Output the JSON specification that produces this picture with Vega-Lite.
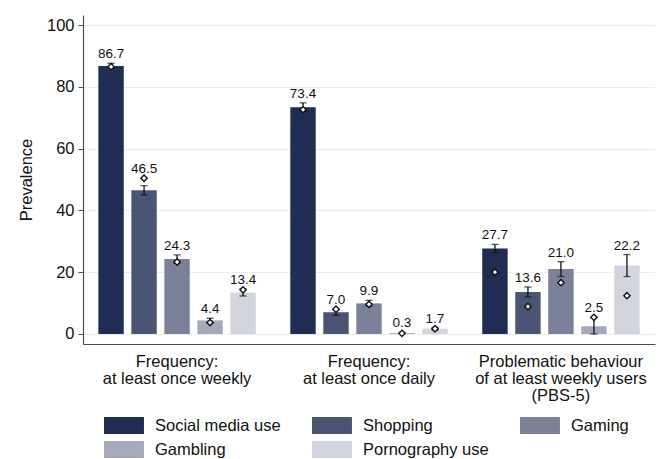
{
  "$schema": "https://vega.github.io/schema/vega-lite/v6.json",
  "width": 572,
  "height": 329,
  "autosize": {"type": "none"},
  "padding": {"left": 83, "top": 15, "right": 9, "bottom": 115},
  "background": "white",
  "config": {
    "font": "Liberation Sans",
    "view": {"stroke": null},
    "axis": {"labelColor": "#111111", "titleColor": "#111111"}
  },
  "data": {
    "values": [
      {"group": "Frequency: at least once weekly", "cat": "Social media use", "val": 86.7, "lo": 86.0, "hi": 87.6, "m": 86.5},
      {"group": "Frequency: at least once weekly", "cat": "Shopping", "val": 46.5, "lo": 45.0, "hi": 48.0, "m": 50.4},
      {"group": "Frequency: at least once weekly", "cat": "Gaming", "val": 24.3, "lo": 22.9, "hi": 25.6, "m": 23.3},
      {"group": "Frequency: at least once weekly", "cat": "Gambling", "val": 4.4, "lo": 3.5, "hi": 5.1, "m": 3.7},
      {"group": "Frequency: at least once weekly", "cat": "Pornography use", "val": 13.4, "lo": 12.3, "hi": 14.6, "m": 14.3},
      {"group": "Frequency: at least once daily", "cat": "Social media use", "val": 73.4, "lo": 72.0, "hi": 74.8, "m": 72.6},
      {"group": "Frequency: at least once daily", "cat": "Shopping", "val": 7.0, "lo": 6.0, "hi": 7.9, "m": 8.0},
      {"group": "Frequency: at least once daily", "cat": "Gaming", "val": 9.9, "lo": 9.0, "hi": 10.9, "m": 9.6},
      {"group": "Frequency: at least once daily", "cat": "Gambling", "val": 0.3, "lo": 0.1, "hi": 0.5, "m": 0.2},
      {"group": "Frequency: at least once daily", "cat": "Pornography use", "val": 1.7, "lo": 1.3, "hi": 2.1, "m": 1.7},
      {"group": "Problematic behaviour of at least weekly users (PBS-5)", "cat": "Social media use", "val": 27.7, "lo": 26.4, "hi": 29.0, "m": 20.0},
      {"group": "Problematic behaviour of at least weekly users (PBS-5)", "cat": "Shopping", "val": 13.6, "lo": 12.0, "hi": 15.2, "m": 8.9},
      {"group": "Problematic behaviour of at least weekly users (PBS-5)", "cat": "Gaming", "val": 21.0, "lo": 18.6, "hi": 23.4, "m": 16.6},
      {"group": "Problematic behaviour of at least weekly users (PBS-5)", "cat": "Gambling", "val": 2.5, "lo": 0.0, "hi": 5.2, "m": 5.4},
      {"group": "Problematic behaviour of at least weekly users (PBS-5)", "cat": "Pornography use", "val": 22.2, "lo": 18.6, "hi": 25.7, "m": 12.4}
    ]
  },
  "encoding": {
    "x": {
      "field": "group",
      "type": "nominal",
      "sort": ["Frequency: at least once weekly", "Frequency: at least once daily", "Problematic behaviour of at least weekly users (PBS-5)"],
      "scale": {"paddingInner": 0.18, "paddingOuter": 0.08},
      "axis": {
        "title": null,
        "labelAngle": 0,
        "ticks": false,
        "labelFontSize": 16.5,
        "labelLineHeight": 17,
        "labelBaseline": "top",
        "labelPadding": 9,
        "labelLimit": 300,
        "domainColor": "#4d4d4d",
        "domainWidth": 1.2,
        "labelExpr": "datum.value == 'Frequency: at least once weekly' ? ['Frequency:', 'at least once weekly'] : datum.value == 'Frequency: at least once daily' ? ['Frequency:', 'at least once daily'] : ['Problematic behaviour', 'of at least weekly users', '(PBS-5)']"
      }
    },
    "xOffset": {
      "field": "cat",
      "type": "nominal",
      "sort": ["Social media use", "Shopping", "Gaming", "Gambling", "Pornography use"],
      "scale": {"paddingInner": 0.23, "paddingOuter": 0}
    }
  },
  "layer": [
    {
      "mark": {"type": "bar"},
      "encoding": {
        "y": {
          "field": "val",
          "type": "quantitative",
          "scale": {"domain": [-3.24, 103.24], "nice": false, "zero": false},
          "axis": {
            "title": "Prevalence",
            "titleFontSize": 16.5,
            "titleFontWeight": "normal",
            "titlePadding": 12,
            "values": [0, 20, 40, 60, 80, 100],
            "labelFontSize": 16.5,
            "labelPadding": 4,
            "tickSize": 5,
            "tickColor": "#4d4d4d",
            "domainColor": "#4d4d4d",
            "domainWidth": 1.2,
            "grid": true,
            "gridColor": "#ececec",
            "gridWidth": 1.2
          }
        },
        "y2": {"datum": 0},
        "color": {
          "field": "cat",
          "type": "nominal",
          "scale": {
            "domain": ["Social media use", "Shopping", "Gaming", "Gambling", "Pornography use"],
            "range": ["#1f2d52", "#4a5473", "#7a8199", "#a5a9b9", "#d3d5de"]
          },
          "legend": {
            "title": null,
            "orient": "none",
            "legendX": 21,
            "legendY": 402,
            "columns": 3,
            "direction": "horizontal",
            "symbolType": "M-1,-1H3.7V1H-1Z",
            "symbolSize": 289,
            "symbolStrokeWidth": 0,
            "symbolOpacity": 1,
            "labelOffset": 34,
            "labelFontSize": 16.5,
            "labelColor": "#111111",
            "labelLimit": 300,
            "columnPadding": 31,
            "rowPadding": 7
          }
        }
      }
    },
    {
      "mark": {"type": "rule", "color": "#111111", "strokeWidth": 1.3},
      "encoding": {
        "y": {"field": "lo", "type": "quantitative"},
        "y2": {"field": "hi"}
      }
    },
    {
      "mark": {"type": "tick", "color": "#111111", "size": 7, "thickness": 1.3},
      "encoding": {"y": {"field": "lo", "type": "quantitative"}}
    },
    {
      "mark": {"type": "tick", "color": "#111111", "size": 7, "thickness": 1.3},
      "encoding": {"y": {"field": "hi", "type": "quantitative"}}
    },
    {
      "mark": {"type": "point", "shape": "diamond", "filled": true, "fill": "white", "stroke": "#111111", "strokeWidth": 1.4, "size": 40, "opacity": 1},
      "encoding": {"y": {"field": "m", "type": "quantitative"}}
    },
    {
      "transform": [
        {"fold": ["hi", "m"], "as": ["k", "v"]},
        {"aggregate": [{"op": "max", "field": "v", "as": "top"}], "groupby": ["group", "cat", "val"]}
      ],
      "mark": {"type": "text", "fontSize": 13.5, "color": "#111111", "baseline": "alphabetic", "dy": -5},
      "encoding": {
        "y": {"field": "top", "type": "quantitative"},
        "text": {"field": "val", "type": "quantitative", "format": ".1f"}
      }
    }
  ]
}
